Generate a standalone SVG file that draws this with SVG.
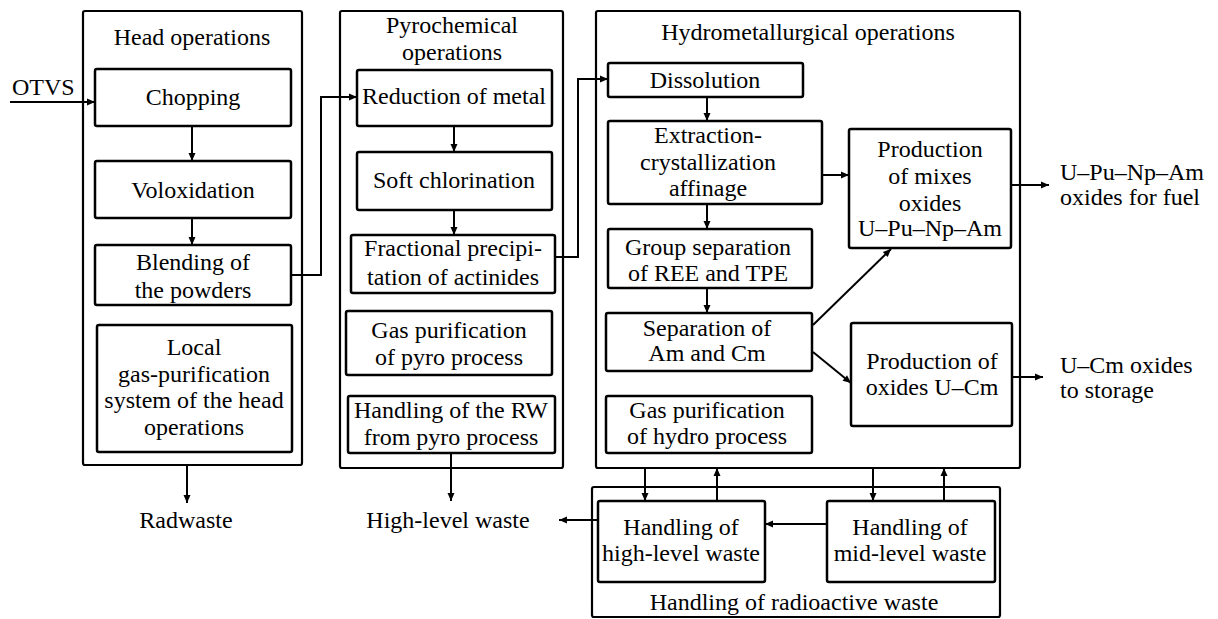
<svg xmlns="http://www.w3.org/2000/svg" width="1218" height="619" viewBox="0 0 1218 619" font-family="'Liberation Serif', 'DejaVu Serif', 'Times New Roman', serif">
<style>
.box{fill:#fff;stroke:#000;stroke-width:2.5}
.outer{fill:none;stroke:#000;stroke-width:2.2}
text{font-family:'Liberation Serif','DejaVu Serif','Times New Roman',serif;font-size:24px;fill:#000;text-anchor:middle}
.l{text-anchor:start}
.c{fill:none;stroke:#000;stroke-width:2}
</style>
<defs>
<marker id="a" markerUnits="userSpaceOnUse" markerWidth="10" markerHeight="10" refX="9" refY="5" orient="auto">
<path d="M1,1.5 L9,5 L1,8.5 Z" fill="#000"/>
</marker>
</defs>
<rect width="1218" height="619" fill="#fff"/>
<g id="head">
<rect class="outer" x="83" y="11" width="219" height="454" rx="2"/>
<text x="192" y="45">Head operations</text>
</g>
<g id="chopping"><rect class="box" x="95" y="69" width="196" height="57" rx="2"/><text x="193" y="105">Chopping</text></g>
<g id="voloxidation"><rect class="box" x="95" y="161" width="196" height="57" rx="2"/><text x="193" y="198">Voloxidation</text></g>
<g id="blending"><rect class="box" x="95" y="245" width="196" height="60" rx="2"/><text x="193" y="270">Blending of</text><text x="193" y="298">the powders</text></g>
<g id="localgas"><rect class="box" x="97" y="325" width="195" height="127" rx="2"/><text x="194" y="355">Local</text><text x="194" y="382">gas-purification</text><text x="194" y="408">system of the head</text><text x="194" y="435">operations</text></g>
<g id="otvs"><text class="l" x="12" y="95">OTVS</text></g>
<g id="radwaste"><text x="186" y="528">Radwaste</text></g>

<g id="pyro">
<rect class="outer" x="340" y="11" width="223" height="457" rx="2"/>
<text x="452" y="33">Pyrochemical</text><text x="452" y="60">operations</text>
</g>
<g id="reduction"><rect class="box" x="357" y="70" width="195" height="56" rx="2"/><text x="454" y="104">Reduction of metal</text></g>
<g id="softchl"><rect class="box" x="357" y="152" width="195" height="58" rx="2"/><text x="454" y="188">Soft chlorination</text></g>
<g id="fractional"><rect class="box" x="351" y="235" width="204" height="58" rx="2"/><text x="453" y="256">Fractional precipi-</text><text x="453" y="285">tation of actinides</text></g>
<g id="gaspyro"><rect class="box" x="346" y="311" width="206" height="64" rx="2"/><text x="449" y="338">Gas purification</text><text x="449" y="365">of pyro process</text></g>
<g id="rwpyro"><rect class="box" x="348" y="396" width="207" height="57" rx="2"/><text x="451" y="418">Handling of the RW</text><text x="451" y="445">from pyro process</text></g>
<g id="hlw-out"><text x="448" y="528">High-level waste</text></g>

<g id="hydro">
<rect class="outer" x="596" y="11" width="424" height="457" rx="2"/>
<text x="808" y="40">Hydrometallurgical operations</text>
</g>
<g id="dissolution"><rect class="box" x="608" y="63" width="195" height="34" rx="2"/><text x="705" y="88">Dissolution</text></g>
<g id="extraction"><rect class="box" x="608" y="121" width="214" height="83" rx="2"/><text x="708" y="143">Extraction-</text><text x="708" y="170">crystallization</text><text x="708" y="196">affinage</text></g>
<g id="groupsep"><rect class="box" x="608" y="229" width="204" height="59" rx="2"/><text x="708" y="255">Group separation</text><text x="708" y="281">of REE and TPE</text></g>
<g id="amcm"><rect class="box" x="606" y="313" width="206" height="58" rx="2"/><text x="707" y="336">Separation of</text><text x="707" y="361">Am and Cm</text></g>
<g id="gashydro"><rect class="box" x="606" y="396" width="206" height="57" rx="2"/><text x="707" y="418">Gas purification</text><text x="707" y="444">of hydro process</text></g>
<g id="mixes"><rect class="box" x="849" y="129" width="162" height="119" rx="2"/><text x="930" y="157">Production</text><text x="930" y="184">of mixes</text><text x="930" y="211">oxides</text><text x="930" y="236">U–Pu–Np–Am</text></g>
<g id="ucm"><rect class="box" x="851" y="323" width="161" height="103" rx="2"/><text x="932" y="369">Production of</text><text x="932" y="395">oxides U–Cm</text></g>
<g id="fuel-out"><text class="l" x="1060" y="180">U–Pu–Np–Am</text><text class="l" x="1060" y="205">oxides for fuel</text></g>
<g id="storage-out"><text class="l" x="1060" y="373">U–Cm oxides</text><text class="l" x="1060" y="398">to storage</text></g>

<g id="rw">
<rect class="outer" x="592" y="487" width="408" height="130" rx="2"/>
<text x="794" y="610">Handling of radioactive waste</text>
</g>
<g id="hlw"><rect class="box" x="598" y="501" width="167" height="81" rx="2"/><text x="681" y="535">Handling of</text><text x="681" y="561">high-level waste</text></g>
<g id="mlw"><rect class="box" x="827" y="501" width="168" height="81" rx="2"/><text x="910" y="535">Handling of</text><text x="910" y="561">mid-level waste</text></g>

<g id="connectors">
<line class="c" x1="10" y1="102" x2="95" y2="102" marker-end="url(#a)"/>
<line class="c" x1="192" y1="126" x2="192" y2="161" marker-end="url(#a)"/>
<line class="c" x1="192" y1="218" x2="192" y2="245" marker-end="url(#a)"/>
<line class="c" x1="187" y1="465" x2="187" y2="503" marker-end="url(#a)"/>
<polyline class="c" points="291,275 321,275 321,97 357,97" marker-end="url(#a)"/>
<line class="c" x1="454" y1="126" x2="454" y2="152" marker-end="url(#a)"/>
<line class="c" x1="454" y1="210" x2="454" y2="235" marker-end="url(#a)"/>
<line class="c" x1="451" y1="453" x2="451" y2="501" marker-end="url(#a)"/>
<polyline class="c" points="555,257 578,257 578,79 608,79" marker-end="url(#a)"/>
<line class="c" x1="707" y1="97" x2="707" y2="121" marker-end="url(#a)"/>
<line class="c" x1="707" y1="204" x2="707" y2="229" marker-end="url(#a)"/>
<line class="c" x1="707" y1="288" x2="707" y2="313" marker-end="url(#a)"/>
<line class="c" x1="822" y1="175" x2="849" y2="175" marker-end="url(#a)"/>
<line class="c" x1="813" y1="325" x2="891" y2="249" marker-end="url(#a)"/>
<line class="c" x1="813" y1="352" x2="851" y2="383" marker-end="url(#a)"/>
<line class="c" x1="1011" y1="185" x2="1049" y2="185" marker-end="url(#a)"/>
<line class="c" x1="1012" y1="377" x2="1043" y2="377" marker-end="url(#a)"/>
<line class="c" x1="645" y1="468" x2="645" y2="501" marker-end="url(#a)"/>
<line class="c" x1="717" y1="501" x2="717" y2="468" marker-end="url(#a)"/>
<line class="c" x1="873" y1="468" x2="873" y2="501" marker-end="url(#a)"/>
<line class="c" x1="944" y1="501" x2="944" y2="468" marker-end="url(#a)"/>
<line class="c" x1="827" y1="524" x2="765" y2="524" marker-end="url(#a)"/>
<line class="c" x1="598" y1="520" x2="559" y2="520" marker-end="url(#a)"/>
</g>
</svg>
